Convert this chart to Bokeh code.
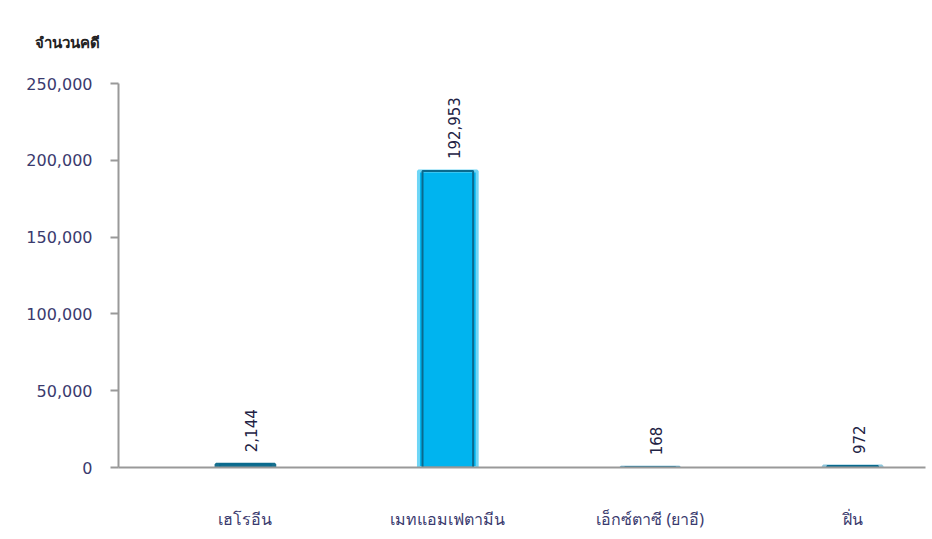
from bokeh.plotting import figure
from bokeh.models import FixedTicker, NumeralTickFormatter, Range1d, ColumnDataSource, Title
from bokeh.core.properties import value
from bokeh.embed import file_html
from bokeh.resources import INLINE
import math

categories = ["เฮโรอีน", "เมทแอมเฟตามีน", "เอ็กซ์ตาซี (ยาอี)", "ฝิ่น"]
cases = [2144, 192953, 168, 972]
value_labels = ["2,144", "192,953", "168", "972"]
bar_colors = ["#17708f", "#00b4ef", "#5aa9c9", "#8cc6dc"]
edge_colors = ["#17708f", "#6fd6f6", "#5aa9c9", "#8cc6dc"]
y_ticks = [0, 50000, 100000, 150000, 200000, 250000]
title_text = "จำนวนคดี"

xs = list(range(len(categories)))
src = ColumnDataSource(dict(x=xs, top=cases, color=bar_colors, edge=edge_colors,
                            label=value_labels))

p = figure(width=932, height=539, output_backend="svg", toolbar_location=None,
           x_range=Range1d(-0.627, 3.36), y_range=Range1d(0, 250000),
           min_border_left=118, min_border_right=7, min_border_top=83, min_border_bottom=72)
p.title = Title(text=title_text, align="left", offset=-84, standoff=60,
                vertical_align="top",
                text_font="Noto Sans", text_font_size="15px", text_font_style="bold",
                text_color="#222222")

p.outline_line_color = None
p.grid.grid_line_color = None
p.background_fill_color = "white"

p.vbar(x="x", top="top", bottom=0, width=0.29, source=src, fill_color="color",
       line_color="edge", line_width=3)
p.vbar(x="x", top="top", bottom=0, width=0.25, source=src, fill_color=None,
       line_color="#0a6a8e", line_width=2)

p.text(x="x", y="top", text="label", source=src, angle=math.pi / 2,
       text_align="left", text_baseline="middle", y_offset=-12, x_offset=6,
       text_font=value("DejaVu Sans"), text_font_size="15px", text_color="#222244")

p.yaxis.ticker = FixedTicker(ticks=y_ticks)
p.yaxis.formatter = NumeralTickFormatter(format="0,0")
p.yaxis.major_tick_out = 8
p.yaxis.major_tick_in = 0
p.yaxis.minor_tick_line_color = None
p.yaxis.axis_line_color = "#999999"
p.yaxis.axis_line_width = 2
p.yaxis.major_tick_line_color = "#999999"
p.yaxis.major_tick_line_width = 2
p.yaxis.major_label_text_font = "DejaVu Sans"
p.yaxis.major_label_text_font_size = "16px"
p.yaxis.major_label_text_color = "#3a3a6e"
p.yaxis.major_label_standoff = 18

p.xaxis.ticker = FixedTicker(ticks=xs)
p.xaxis.major_label_overrides = {i: c for i, c in enumerate(categories)}
p.xaxis.major_tick_line_color = None
p.xaxis.minor_tick_line_color = None
p.xaxis.axis_line_color = "#999999"
p.xaxis.axis_line_width = 2
p.xaxis.major_label_text_font = "Noto Sans"
p.xaxis.major_label_text_font_size = "16px"
p.xaxis.major_label_text_color = "#3a3a6e"
p.xaxis.major_label_standoff = 34

open("out.html", "w").write(file_html(p, INLINE))
